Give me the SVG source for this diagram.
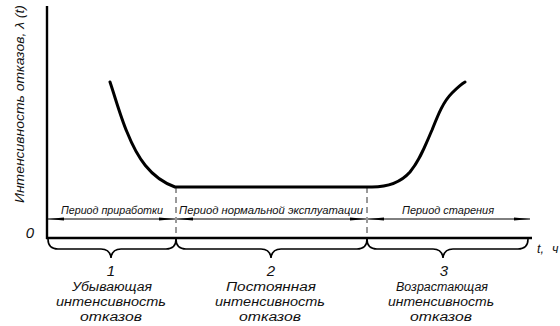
<svg xmlns="http://www.w3.org/2000/svg" width="560" height="326" viewBox="0 0 560 326">
<style>
.t{font-family:"Liberation Sans",Arial,sans-serif;font-style:italic;fill:#111}
.s{font-size:10.5px}
.m{font-size:12.5px}
.n{font-size:15px}
.ax{stroke:#000;stroke-width:2.4;fill:none}
.th{stroke:#000;stroke-width:1;fill:none}
.dash{stroke:#000;stroke-width:0.8;stroke-dasharray:6,4;fill:none}
.br{stroke:#000;stroke-width:1.6;fill:none}
.cv{stroke:#000;stroke-width:3;fill:none;stroke-linecap:round}
</style>
<defs>
<marker id="ah" viewBox="0 0 16 4" refX="16" refY="2" markerWidth="16" markerHeight="4" markerUnits="userSpaceOnUse" orient="auto-start-reverse">
<path d="M0,0.4 L16,2 L0,3.6 Z" fill="#000"/>
</marker>
</defs>
<g id="axes">
<line class="ax" x1="47" y1="6" x2="47" y2="239"/>
<line class="ax" x1="46" y1="238" x2="532" y2="238"/>
<text class="t n" x="30" y="238" text-anchor="middle">0</text>
<text class="t m" x="537" y="253">t,</text>
<text class="t m" x="552" y="253">ч</text>
<text class="t m" transform="translate(24,203) rotate(-90)" textLength="198" lengthAdjust="spacingAndGlyphs">Интенсивность отказов, λ (t)</text>
</g>
<g id="curve">
<path class="cv" d="M110,82 C116,100 121,118 127,132 C137,157 150,178 175,187 L372,187 C390,187 402,181 410,172 C420,160 425,146 432,130 C438,115 443,102 452,93 C456,89 460,85 465,82"/>
</g>
<g id="connectors">
<line class="dash" x1="176" y1="187" x2="176" y2="246"/>
<line class="dash" x1="367" y1="187" x2="367" y2="246"/>
<line class="th" x1="48" y1="219" x2="175" y2="219" marker-start="url(#ah)" marker-end="url(#ah)"/>
<line class="th" x1="177" y1="219" x2="366" y2="219" marker-start="url(#ah)" marker-end="url(#ah)"/>
<line class="th" x1="368" y1="219" x2="530" y2="219" marker-start="url(#ah)" marker-end="url(#ah)"/>
<path class="br" d="M48,239 Q48,249 58,249 L101,249 Q110,249 111,258 Q112,249 121,249 L166,249 Q176,249 176,239"/>
<path class="br" d="M176,239 Q176,249 186,249 L261,249 Q270,249 271,258 Q272,249 281,249 L357,249 Q367,249 367,239"/>
<path class="br" d="M367,239 Q367,249 377,249 L433,249 Q442,249 443,258 Q444,249 453,249 L518,249 Q528,249 528,239"/>
</g>
<g id="period1">
<text class="t s" x="112" y="214" text-anchor="middle" textLength="102" lengthAdjust="spacingAndGlyphs">Период приработки</text>
</g>
<g id="period2">
<text class="t s" x="271" y="214" text-anchor="middle" textLength="184" lengthAdjust="spacingAndGlyphs">Период нормальной эксплуатации</text>
</g>
<g id="period3">
<text class="t s" x="448" y="214" text-anchor="middle" textLength="92" lengthAdjust="spacingAndGlyphs">Период старения</text>
</g>
<g id="stage1">
<text class="t n" x="111" y="276" text-anchor="middle">1</text>
<text class="t m" x="112" y="291" text-anchor="middle" textLength="80" lengthAdjust="spacingAndGlyphs">Убывающая</text>
<text class="t m" x="111" y="306" text-anchor="middle" textLength="110" lengthAdjust="spacingAndGlyphs">интенсивность</text>
<text class="t m" x="111" y="321" text-anchor="middle" textLength="62" lengthAdjust="spacingAndGlyphs">отказов</text>
</g>
<g id="stage2">
<text class="t n" x="271" y="276" text-anchor="middle">2</text>
<text class="t m" x="271" y="291" text-anchor="middle" textLength="90" lengthAdjust="spacingAndGlyphs">Постоянная</text>
<text class="t m" x="270" y="306" text-anchor="middle" textLength="110" lengthAdjust="spacingAndGlyphs">интенсивность</text>
<text class="t m" x="270" y="321" text-anchor="middle" textLength="62" lengthAdjust="spacingAndGlyphs">отказов</text>
</g>
<g id="stage3">
<text class="t n" x="444" y="276" text-anchor="middle">3</text>
<text class="t m" x="442" y="291" text-anchor="middle" textLength="92" lengthAdjust="spacingAndGlyphs">Возрастающая</text>
<text class="t m" x="441" y="306" text-anchor="middle" textLength="106" lengthAdjust="spacingAndGlyphs">интенсивность</text>
<text class="t m" x="441" y="321" text-anchor="middle" textLength="62" lengthAdjust="spacingAndGlyphs">отказов</text>
</g>
</svg>
